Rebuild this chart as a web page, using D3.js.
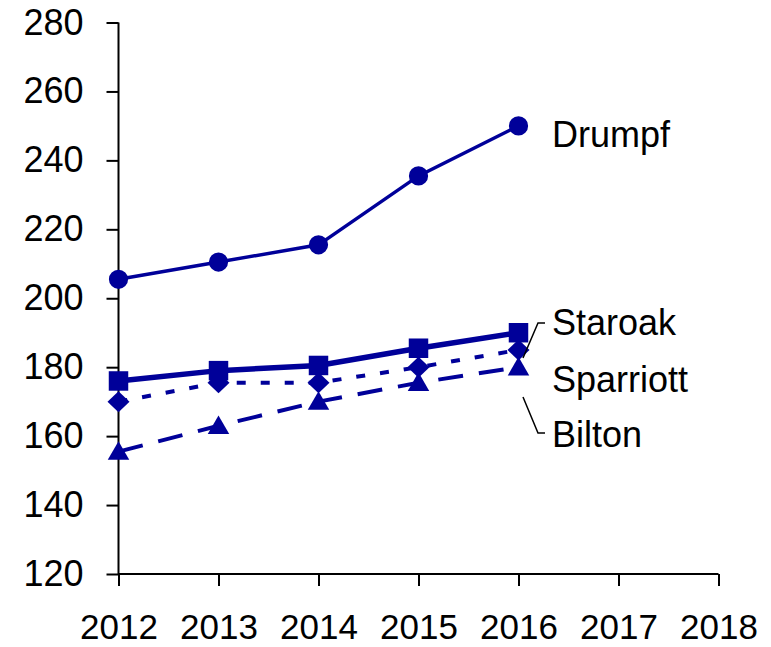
<!DOCTYPE html>
<html>
<head>
<meta charset="utf-8">
<script src="https://cdn.jsdelivr.net/npm/d3@7"></script>
<style>
  html, body { margin: 0; padding: 0; background: #fff; }
  svg { display: block; }
  text { font-family: "Liberation Sans", Arial, sans-serif; }
</style>
</head>
<body>
<svg id="chart" width="771" height="647"></svg>
<script>
// ---- data ----
const years = [2012, 2013, 2014, 2015, 2016];
const xTicks = [2012, 2013, 2014, 2015, 2016, 2017, 2018];
const yTicks = [120, 140, 160, 180, 200, 220, 240, 260, 280];
const drumpf = [205.5, 210.5, 215.5, 235.5, 250];
const staroak = [176, 179, 180.5, 185.5, 190];
const sparriott = [170, 175.5, 175.5, 180, 185];
const bilton = [155.5, 163, 170, 175.5, 180];
const seriesNames = ["Drumpf", "Staroak", "Sparriott", "Bilton"];

// ---- layout ----
const color = "#000099";
const svg = d3.select("#chart");
const x = d3.scaleLinear().domain([2012, 2018]).range([118.5, 718.5]);
const y = d3.scaleLinear().domain([120, 280]).range([574, 22.5]);

// axes
const yAxis = svg.append("g").attr("transform", "translate(118.5,0)")
  .call(d3.axisLeft(y).tickValues(yTicks).tickSize(12).tickPadding(23).tickFormat(d3.format("d")));
const xAxis = svg.append("g").attr("transform", "translate(0,574)")
  .call(d3.axisBottom(x).tickValues(xTicks).tickSize(12).tickPadding(28).tickFormat(d3.format("d")));
[yAxis, xAxis].forEach(g => {
  g.selectAll(".tick line").attr("stroke", "#000").attr("stroke-width", 2);
  g.selectAll("text").attr("fill", "#000").style("font-size", "36px")
    .style("font-family", '"Liberation Sans", Arial, sans-serif');
});
yAxis.select("path.domain").attr("d", `M0,${y(280)}V${y(120)}`)
  .attr("fill", "none").attr("stroke", "#000").attr("stroke-width", 2);
xAxis.select("path.domain").attr("d", `M${x(2012)},0H${x(2018)}`)
  .attr("fill", "none").attr("stroke", "#000").attr("stroke-width", 2);
xAxis.selectAll("text").style("font-size", "35px").attr("dy", "0.71em");

const line = d3.line().x((d, i) => x(years[i])).y(d => y(d));

const diamond = { draw(ctx) { ctx.moveTo(0, -10.5); ctx.lineTo(11, 0); ctx.lineTo(0, 10.5); ctx.lineTo(-11, 0); ctx.closePath(); } };

const defs = [
  { name: "Bilton", vals: bilton, width: 4, dash: "25,16", shape: d3.symbolTriangle, size: 200, dy: 2 },
  { name: "Sparriott", vals: sparriott, width: 4, dash: "9,15", shape: diamond, size: 64, dy: 0 },
  { name: "Staroak", vals: staroak, width: 5.5, dash: null, shape: d3.symbolSquare, size: 380, dy: 0 },
  { name: "Drumpf", vals: drumpf, width: 3.5, dash: null, shape: d3.symbolCircle, size: 290, dy: 0 }
];

defs.forEach(s => {
  svg.append("path").datum(s.vals)
    .attr("d", line)
    .attr("fill", "none")
    .attr("stroke", color)
    .attr("stroke-width", s.width)
    .attr("stroke-dasharray", s.dash);
  svg.append("g").selectAll("path").data(s.vals).join("path")
    .attr("d", d3.symbol().type(s.shape).size(s.size))
    .attr("transform", (d, i) => `translate(${x(years[i])},${y(d) + s.dy})`)
    .attr("fill", color);
});

// series labels
const labelX = 552;
const labelY = { "Drumpf": 147, "Staroak": 335, "Sparriott": 392, "Bilton": 447 };
seriesNames.forEach(n => {
  svg.append("text").attr("x", labelX).attr("y", labelY[n])
    .style("font-size", "36px").attr("fill", "#000").text(n);
});

// leader lines
svg.append("path")
  .attr("d", "M545,323H538L523,358")
  .attr("fill", "none").attr("stroke", "#000").attr("stroke-width", 1.5);
svg.append("path")
  .attr("d", "M523,397L538,433H545")
  .attr("fill", "none").attr("stroke", "#000").attr("stroke-width", 1.5);
</script>
</body>
</html>
